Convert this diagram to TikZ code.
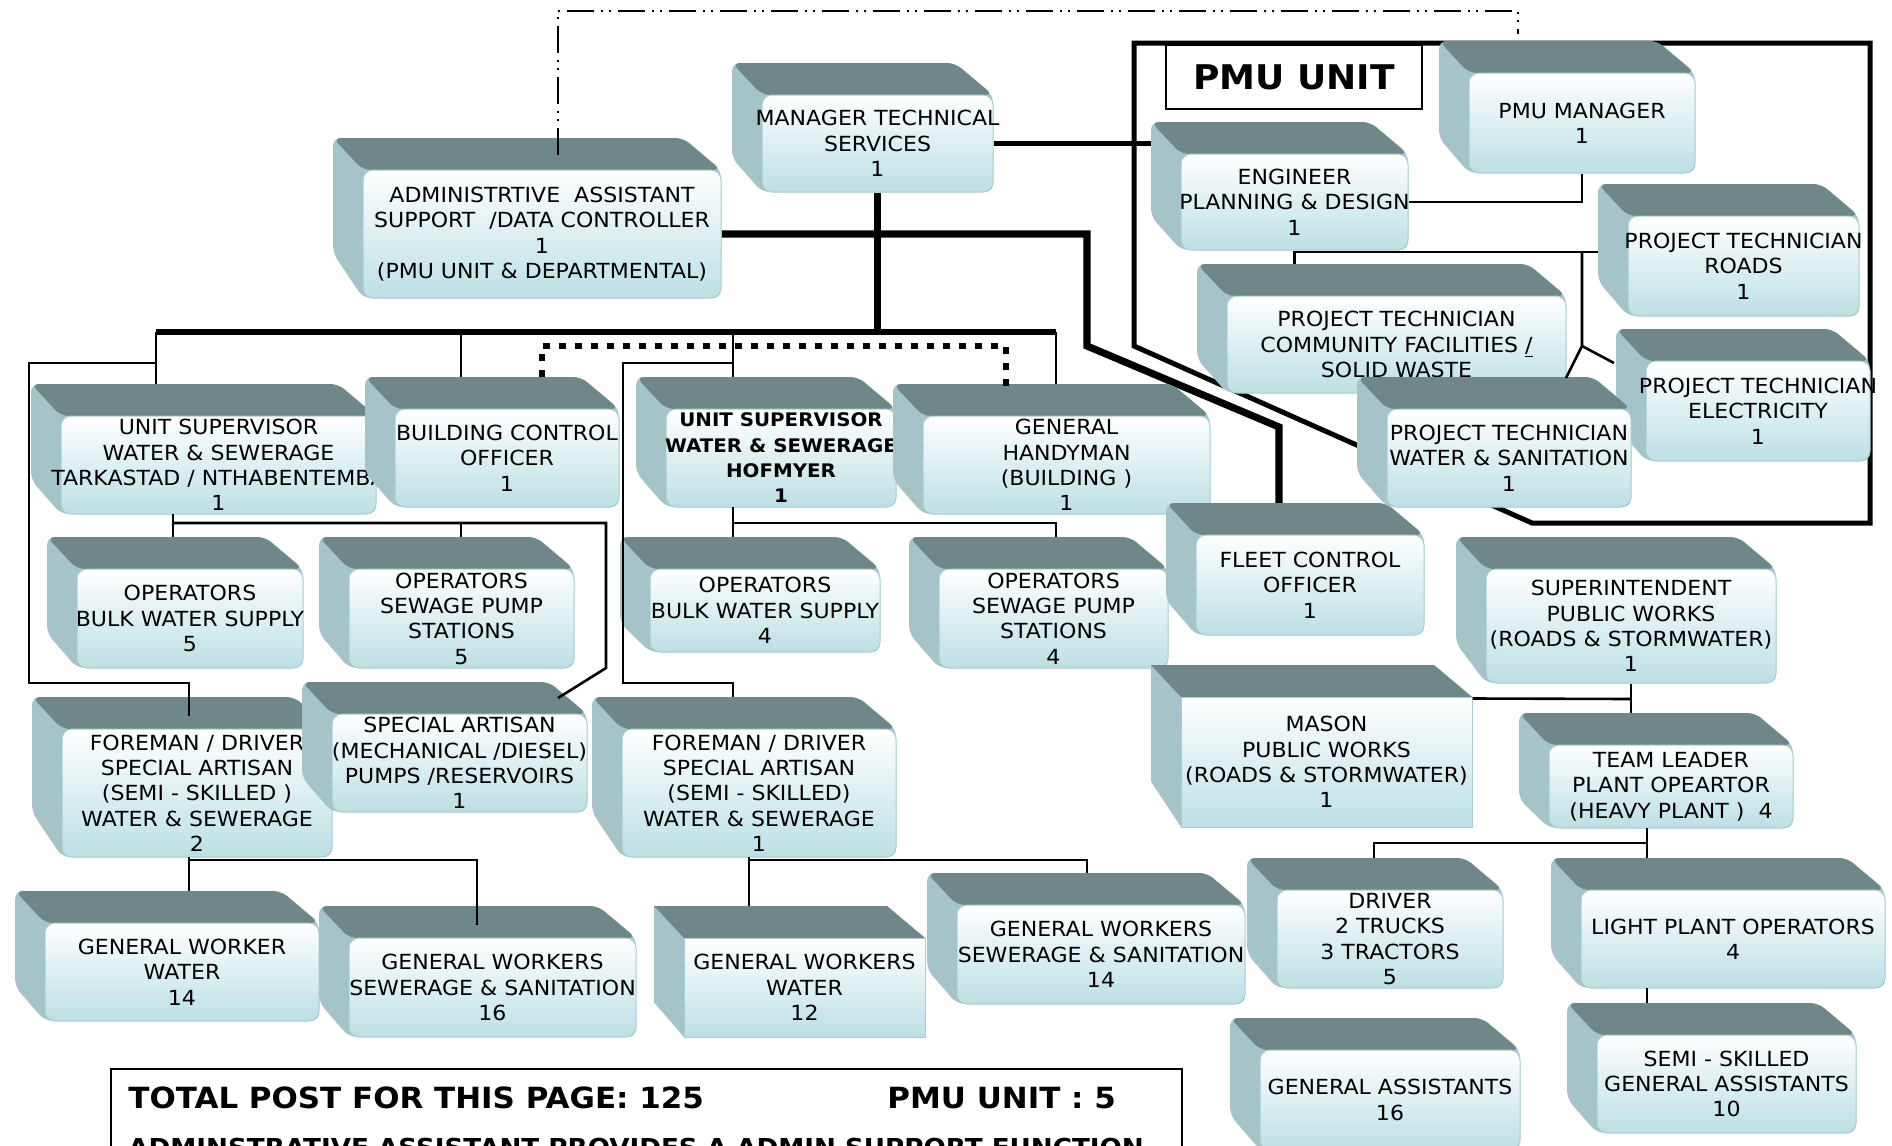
\documentclass[tikz,border=0pt]{standalone}
\usepackage{fontspec}
\setmainfont{DejaVu Sans}[FakeStretch=1.06]
\usepackage{tikz}
\usetikzlibrary{calc}
\pgfdeclarelayer{back}
\pgfsetlayers{back,main}

\definecolor{topface}{HTML}{6F8788}
\definecolor{sideface}{HTML}{A5C4C7}
\definecolor{frontbot}{HTML}{BCDFE3}
\definecolor{frontedge}{HTML}{A9CDD2}

\tikzset{
  post/.style={draw=frontedge, line width=0.5pt, rounded corners=5pt, top color=white, bottom color=frontbot, inner sep=0pt},
  posttext/.style={align=center, inner sep=0pt, font=\fontsize{10.4}{12.65}\selectfont},
  link/.style={line width=1.3pt},
  bar/.style={line width=2.7pt},
  heavy/.style={line width=3.6pt},
  frame/.style={line width=2.5pt},
  dotline/.style={line width=3.4pt, dash pattern=on 3.4pt off 4.6pt},
  dashdotline/.style={line width=1.3pt, dash pattern=on 13.5pt off 3.5pt on 1pt off 3pt on 1pt off 3.5pt},
}

% 3d post box: name, left, top, right, bottom (front face), text
\newcommand{\postbox}[7][]{%
  \fill[sideface, rounded corners=4pt, #1] ({#3-30},{#4-32}) -- ({#5-38},{#4-32}) -- (#5,#4)
     -- (#5,#6) -- (#3,#6) -- ({#3-30},{#6-0.35*(#6-#4)}) -- cycle;
  \fill[topface, rounded corners=4pt, #1] ({#3-30},{#4-32}) -- ({#5-38},{#4-32}) -- (#5,#4) -- (#3,#4) -- cycle;
  \node[post, minimum width={(#5-#3)*0.5pt}, minimum height={(#6-#4)*0.5pt}, #1] (#2) at ({(#3+#5)/2},{(#4+#6)/2}) {};
  \node[posttext, #1] (#2-text) at (#2.center) {#7};
  \coordinate (#2-back) at ({(#3+#5)/2},{#4-32});
  \coordinate (#2-side) at ({#3-30},{(#4+#6)/2});
}

\begin{document}
\begin{tikzpicture}[x=0.5pt, y=-0.5pt]
    \useasboundingbox (0,0) rectangle (1892,1146);
    % management
    \postbox{mgr}{762}{95}{993}{192}{MANAGER TECHNICAL\\SERVICES\\1}
    \postbox{admin}{363}{170}{721}{298}{ADMINISTRTIVE\ \ ASSISTANT\\SUPPORT\ \ /DATA CONTROLLER\\1\\(PMU UNIT \& DEPARTMENTAL)}
    % pmu unit
    \node[draw, line width=0.8pt, fill=white, minimum width=128pt, minimum height=32pt, font=\bfseries\fontsize{17}{20}\selectfont] (pmulabel) at (1294,77) {PMU UNIT\hspace{9pt}};
    \postbox{pmumgr}{1469}{73}{1695}{173}{PMU MANAGER\\1}
    \postbox{eng}{1181}{154}{1408}{250}{ENGINEER\\PLANNING \& DESIGN\\1}
    \postbox{roads}{1628}{216}{1859}{316}{PROJECT TECHNICIAN\\ROADS\\1}
    \postbox{cf}{1227}{296}{1566}{393}{PROJECT TECHNICIAN\\COMMUNITY FACILITIES \underline{/}\\SOLID WASTE}
    \postbox{elec}{1646}{361}{1870}{461}{PROJECT TECHNICIAN\\ELECTRICITY\\1}
    \postbox{wsan}{1387}{409}{1631}{507}{PROJECT TECHNICIAN\\WATER \& SANITATION\\1}
    % supervisors
    \postbox{tnsup}{61}{416}{376}{514}{UNIT SUPERVISOR\\WATER \& SEWERAGE\\TARKASTAD / NTHABENTEMBA\\1}
    \postbox{bco}{395}{409}{619}{507}{BUILDING CONTROL\\OFFICER\\1}
    \postbox[font=\bfseries\fontsize{9.35}{12.65}\selectfont]{hofsup}{666}{409}{896}{507}{UNIT SUPERVISOR\\WATER \& SEWERAGE\\HOFMYER\\1}
    \postbox{handy}{923}{416}{1210}{514}{GENERAL\\HANDYMAN\\(BUILDING )\\1}
    % operators
    \postbox{tnbulk}{77}{569}{303}{668}{OPERATORS\\BULK WATER SUPPLY\\5}
    \postbox{tnpump}{349}{569}{574}{668}{OPERATORS\\SEWAGE PUMP\\STATIONS\\5}
    \postbox{hofbulk}{650}{569}{880}{652}{OPERATORS\\BULK WATER SUPPLY\\4}
    \postbox{hofpump}{939}{569}{1168}{668}{OPERATORS\\SEWAGE PUMP\\STATIONS\\4}
    \postbox{fleet}{1196}{535}{1424}{635}{FLEET CONTROL\\OFFICER\\1}
    \postbox{supt}{1486}{569}{1776}{683}{SUPERINTENDENT\\PUBLIC WORKS\\(ROADS \& STORMWATER)\\1}
    % foremen
    \postbox{tnfore}{62}{729}{332}{857}{FOREMAN / DRIVER\\SPECIAL ARTISAN\\(SEMI - SKILLED )\\WATER \& SEWERAGE\\2}
    \postbox{artisan}{332}{714}{587}{812}{SPECIAL ARTISAN\\(MECHANICAL /DIESEL)\\PUMPS /RESERVOIRS\\1}
    \postbox{hoffore}{622}{729}{896}{857}{FOREMAN / DRIVER\\SPECIAL ARTISAN\\(SEMI - SKILLED)\\WATER \& SEWERAGE\\1}
    \postbox[sharp corners]{mason}{1181}{697}{1472}{827}{MASON\\PUBLIC WORKS\\(ROADS \& STORMWATER)\\1}
    \postbox{tl}{1549}{745}{1793}{828}{TEAM LEADER\\PLANT OPEARTOR\\(HEAVY PLANT )\ \ 4}
    % workers
    \postbox{gwwater}{45}{923}{319}{1021}{GENERAL WORKER\\WATER\\14}
    \postbox{gwsan}{349}{938}{636}{1037}{GENERAL WORKERS\\SEWERAGE \& SANITATION\\16}
    \postbox[sharp corners]{hofwater}{684}{938}{925}{1037}{GENERAL WORKERS\\WATER\\12}
    \postbox{hofsan}{957}{905}{1245}{1004}{GENERAL WORKERS\\SEWERAGE \& SANITATION\\14}
    \postbox{driver}{1277}{890}{1503}{988}{DRIVER\\2 TRUCKS\\3 TRACTORS\\5}
    \postbox{lpo}{1581}{890}{1885}{988}{LIGHT PLANT OPERATORS\\4}
    \postbox{ga}{1260}{1050}{1520}{1150}{GENERAL ASSISTANTS\\16}
    \postbox{semi}{1597}{1035}{1856}{1133}{SEMI - SKILLED\\GENERAL ASSISTANTS\\10}

    % heavy lines behind the boxes
    \coordinate (barL) at (156,332);
    \coordinate (barR) at (1056,332);
    \coordinate (fk1) at (1087,346);
    \coordinate (fk2) at (1279,427);
    \begin{pgfonlayer}{back}
    \draw[frame] (1134,346) -- (1134,43) -- (1870,43) -- (1870,523) -- (1532,523) -- cycle;
    \draw[heavy] (mgr.south) -- (mgr.south |- barL);
    \draw[bar] (barL) -- (barR);
    \draw[heavy] (admin.east) -| (fk1) -- (fk2) -- (fk2 |- fleet-back);
    \draw[frame] (mgr.east) -- (mgr.east -| eng-side);
    \end{pgfonlayer}

    % drops from the bar
    \foreach \x/\n in {156/tnsup, 461/bco, 733/hofsup, 1056/handy}
    \draw[link] (\x,332) -- (\x,332 |- \n-back);
    % tarkastad side
    \draw[link] (156,363) -- (29,363) -- (29,683) -- (189,683) -- (189,716);
    \draw[link] (173,514) -- (173,514 |- tnbulk-back);
    \draw[link] (173,523) -- (606,523) -- (606,668) -- (558,698);
    \draw[link] (461,523) -- (461,523 |- tnpump-back);
    \draw[link] (189,857) -- (189,857 |- gwwater-back);
    \draw[link] (189,860) -- (477,860) -- (477,925);
    % hofmyer side
    \draw[link] (733,363) -- (623,363) -- (623,683) -- (733,683) -- (733,683 |- hoffore-back);
    \draw[link] (733,507) -- (733,507 |- hofbulk-back);
    \draw[link] (733,523) -- (1056,523) -- (1056,523 |- hofpump-back);
    \draw[link] (749,857) -- (749,857 |- hofwater-back);
    \draw[link] (749,860) -- (1087,860) -- (1087,860 |- hofsan-back);
    % public works
    \draw[link] (supt.south) -- (supt.south |- tl-back);
    \draw[link] (mason.north east) ++(0,2) -- (1631,699);
    \draw[link] (1647,828) -- (1647,828 |- lpo-back);
    \draw[link] (1647,843) -- (1374,843) -- (1374,843 |- driver-back);
    \draw[link] (1647,988) -- (1647,988 |- semi-back);
    % pmu unit
    \draw[link] (pmumgr.south) |- (eng.east);
    \draw[link] (eng.south |- cf-back) |- (1582,252) -- (1582,252 -| roads-side);
    \draw[link] (1582,252) -- (1582,346) -- (1566,378);
    \draw[link] (1582,346) -- (1614,363);
    % dotted and dash dot lines
    \draw[dotline] (542,377) -- (542,346) -- (1006,346) -- (1006,393);
    \draw[dashdotline] (558,155) -- (558,11) -- (1518,11) -- (1518,34);

    % totals
    \node[draw, line width=1pt, anchor=north west, minimum width=535.5pt, minimum height=60pt, inner sep=0pt] (totalbox) at (110,1068) {};
    \node[anchor=base west, inner sep=0pt, font=\bfseries\fontsize{14.6}{18}\selectfont] (total) at (128,1108) {TOTAL POST FOR THIS PAGE: 125};
    \node[anchor=base west, inner sep=0pt, font=\bfseries\fontsize{14.6}{18}\selectfont] (pmutotal) at (887,1108) {PMU UNIT : 5};
    \node[anchor=base west, inner sep=0pt, font=\bfseries\fontsize{12.35}{15}\selectfont] (adminnote) at (128,1156) {ADMINSTRATIVE ASSISTANT PROVIDES A ADMIN SUPPORT FUNCTION};
\end{tikzpicture}
\end{document}
